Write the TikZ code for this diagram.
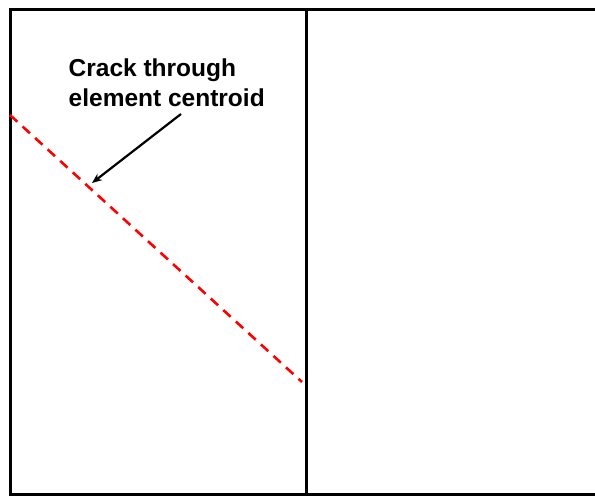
\documentclass[tikz,border=0pt]{standalone}
\usepackage{fontspec}
\setmainfont{Liberation Sans}
\usetikzlibrary{arrows.meta}
\begin{document}
\begin{tikzpicture}[x=1pt,y=-1pt,
  frame/.style={line width=3pt,black},
  crack/.style={line width=2.6pt,red,dash pattern=on 10pt off 7pt},
  pointer/.style={line width=2.2pt,-{Stealth[length=10pt,width=8pt]}},
  lbl/.style={font=\fontsize{24.5}{30}\selectfont\bfseries,align=left,anchor=north west,inner sep=0pt}]
\useasboundingbox (0,0) rectangle (595,496);
\draw[frame] (600,9) -- (10,9) -- (10,494.5) -- (600,494.5);
\draw[frame] (306.5,9) -- (306.5,494.5);
\coordinate (c1) at (10,115);
\coordinate (c2) at (302,382);
\draw[crack] (c1) -- (c2);
\node[lbl] (t) at (68.5,59) {Crack through\\element centroid};
\coordinate (a1) at (181,114);
\coordinate (a2) at (92,183);
\draw[pointer] (a1) -- (a2);
\end{tikzpicture}
\end{document}
